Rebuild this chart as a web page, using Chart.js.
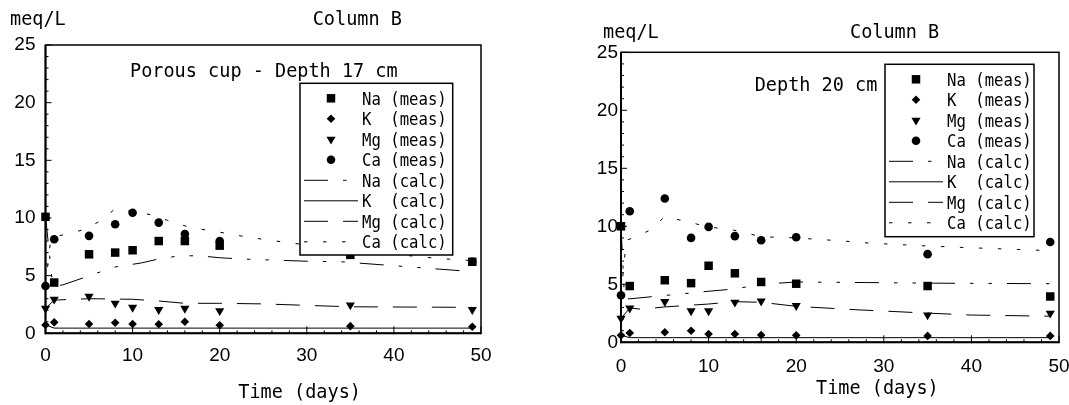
<!DOCTYPE html>
<html>
<head>
<meta charset="utf-8">
<script src="https://cdn.jsdelivr.net/npm/chart.js"></script>
<style>
  body { margin: 0; background: #fff; }
  canvas { position: absolute; top: 0; }
</style>
</head>
<body>
<canvas id="chart17" width="534" height="405" style="left:0px"></canvas>
<canvas id="chart20" width="535" height="405" style="left:534px"></canvas>
<script>
// sampling days of the measured values
const days = [0, 1, 5, 8, 10, 13, 16, 20, 35, 49];
const xTicks = [0, 10, 20, 30, 40, 50];
const yTicks = [0, 5, 10, 15, 20, 25];

// porous cup, depth 17 cm (meq/L)
const naMeas17 = [10.1, 4.4, 6.85, 7.0, 7.2, 8.0, 8.0, 7.6, 6.8, 6.2];
const kMeas17 = [0.72, 0.95, 0.8, 0.92, 0.8, 0.78, 1.0, 0.7, 0.62, 0.57];
const mgMeas17 = [2.15, 2.95, 3.2, 2.6, 2.25, 2.05, 2.15, 1.95, 2.45, 2.05];
const caMeas17 = [4.1, 8.15, 8.45, 9.45, 10.45, 9.6, 8.6, 8.0, null, 6.2];

const naCalc17Days = [0, 0.3, 0.8, 1, 2, 4.5, 6, 8, 11, 13.3, 15.5, 17.7, 20, 23, 30, 34, 49];
const naCalc17 = [10.1, 8.0, 4.3, 4.1, 4.2, 4.85, 5.25, 5.75, 6.1, 6.5, 6.72, 6.72, 6.55, 6.43, 6.25, 6.2, 5.35];
const kCalc17Days = [0, 1, 49];
const kCalc17 = [0.72, 0.45, 0.45];
const mgCalc17Days = [0, 1, 5, 10, 13, 16, 20, 25, 30, 35, 49];
const mgCalc17 = [2.15, 2.88, 3.0, 2.95, 2.8, 2.6, 2.6, 2.55, 2.42, 2.3, 2.25];
const caCalc17Days = [0, 0.6, 1, 4.5, 6.3, 8, 12, 14, 16.5, 20.8, 23, 28, 35, 40, 45, 49];
const caCalc17 = [4.1, 8.2, 8.35, 9.0, 9.75, 10.8, 10.3, 9.8, 9.2, 8.67, 8.36, 7.84, 7.25, 6.85, 6.5, 6.3];

// depth 20 cm (meq/L)
const naMeas20 = [10.0, 4.85, 5.35, 5.1, 6.6, 5.95, 5.2, 5.05, 4.85, 3.95];
const kMeas20 = [0.6, 0.8, 0.86, 1.0, 0.72, 0.72, 0.63, 0.6, 0.55, 0.55];
const mgMeas20 = [2.05, 2.95, 3.5, 2.7, 2.7, 3.45, 3.55, 3.15, 2.35, 2.5];
const caMeas20 = [4.05, 11.3, 12.4, 9.0, 9.95, 9.15, 8.8, 9.05, 7.6, 8.65];

const naCalc20Days = [0, 0.4, 1, 4.5, 10, 13, 16, 20, 28, 35, 49];
const naCalc20 = [10.0, 3.75, 3.75, 4.0, 4.4, 4.6, 5.0, 5.2, 5.15, 5.1, 5.05];
const kCalc20Days = [0, 1, 49];
const kCalc20 = [0.6, 0.4, 0.4];
const mgCalc20Days = [0, 1, 2.4, 5, 10, 13, 16, 20, 27, 34, 40, 49];
const mgCalc20 = [2.05, 2.95, 2.85, 3.05, 3.3, 3.5, 3.45, 3.1, 2.8, 2.55, 2.35, 2.25];
const caCalc20Days = [0, 0.6, 1.4, 3.4, 5, 10, 13, 16, 20, 25, 28.4, 35, 40, 49];
const caCalc20 = [4.05, 8.8, 9.0, 9.7, 10.85, 9.95, 9.65, 9.1, 9.0, 8.75, 8.55, 8.3, 8.15, 7.9];

const MONO = '"DejaVu Sans Mono", monospace';

function pts(xs, ys) {
  return xs.map((x, i) => ({ x: x, y: ys[i] })).filter(p => p.y !== null);
}

function meas(label, data, style, radius, rotation) {
  return {
    label: label, data: data, showLine: false, clip: false,
    pointStyle: style, pointRadius: radius, pointRotation: rotation || 0,
    pointBackgroundColor: "#000", pointBorderColor: "#000", pointBorderWidth: 0
  };
}

function calc(label, data, dash) {
  return {
    label: label, data: data, showLine: true, clip: false,
    borderColor: "#000", borderWidth: 1, borderDash: dash,
    pointRadius: 0, tension: 0, fill: false
  };
}

// narrow, tall monospace text (x squeezed a little)
function monoText(ctx, text, x, y, size, sx) {
  ctx.save();
  ctx.font = size + "px " + MONO;
  ctx.translate(x, y);
  ctx.scale(sx, 1);
  ctx.fillText(text, 0, 0);
  ctx.restore();
}

// frame, inward ticks, texts and the boxed legend inside the plot
const framePlugin = {
  id: "frame",
  afterDatasetsDraw(chart, args, opts) {
    const { ctx, chartArea: a, scales: { x, y } } = chart;
    ctx.save();
    ctx.strokeStyle = "#000";
    ctx.lineWidth = 1;
    ctx.beginPath();
    for (let v = 0; v <= 25; v++) {
      const py = y.getPixelForValue(v);
      ctx.moveTo(a.left, py);
      ctx.lineTo(a.left + (v % 5 ? 3 : 6), py);
    }
    for (let v = 0; v <= 50; v += 2) {
      const px = x.getPixelForValue(v);
      ctx.moveTo(px, a.bottom + (v % 10 ? 0 : 1));
      ctx.lineTo(px, a.bottom - (v % 10 ? 3 : 7));
    }
    ctx.stroke();
    ctx.lineWidth = 1.5;
    ctx.strokeRect(a.left, a.top, a.right - a.left, a.bottom - a.top);
    ctx.lineWidth = 2;
    ctx.beginPath();
    ctx.moveTo(a.left, a.top);
    ctx.lineTo(a.left, a.bottom);
    ctx.lineTo(a.right, a.bottom);
    ctx.stroke();

    // legend
    const lg = opts.legend;
    ctx.fillStyle = "#fff";
    ctx.fillRect(lg.left, lg.top, lg.width, lg.height);
    ctx.lineWidth = 1.5;
    ctx.strokeRect(lg.left, lg.top, lg.width, lg.height);
    chart.data.datasets.forEach((ds, i) => {
      const cy = lg.top + 15 + i * 20.5;
      ctx.fillStyle = "#000";
      if (ds.showLine) {
        ctx.save();
        ctx.lineWidth = 1;
        ctx.setLineDash(ds.borderDash);
        ctx.beginPath();
        ctx.moveTo(lg.left + 4, cy);
        ctx.lineTo(lg.left + 58, cy);
        ctx.stroke();
        ctx.restore();
      } else {
        Chart.helpers.drawPoint(ctx, {
          pointStyle: ds.pointStyle, radius: ds.pointRadius,
          rotation: ds.pointRotation, borderWidth: 0
        }, lg.left + 31, cy);
      }
      monoText(ctx, ds.label, lg.left + 62, cy + 6.5, 17, 0.92);
    });

    // texts
    ctx.fillStyle = "#000";
    opts.texts.forEach(t => monoText(ctx, t.text, t.x, t.y, 19, 0.975));
    ctx.restore();
  }
};

function makeChart(id, datasets, box, legend, texts) {
  const canvas = document.getElementById(id);
  const W = canvas.width, H = canvas.height;
  return new Chart(canvas.getContext("2d"), {
    type: "scatter",
    data: { datasets: datasets },
    options: {
      responsive: false,
      animation: false,
      devicePixelRatio: 1,
      layout: { padding: { left: 0, top: box.top, right: W - box.right, bottom: 0 } },
      scales: {
        x: {
          type: "linear", min: 0, max: 50,
          grid: { display: false, drawTicks: false },
          border: { display: false },
          afterBuildTicks: s => { s.ticks = xTicks.map(v => ({ value: v })); },
          afterFit: s => { s.height = H - box.bottom; s.paddingLeft = 0; s.paddingRight = 0; },
          ticks: { padding: box.xPad, color: "#000", font: { size: 19, family: "Liberation Sans" }, maxRotation: 0, autoSkip: false }
        },
        y: {
          type: "linear", min: 0, max: 25,
          grid: { display: false, drawTicks: false },
          border: { display: false },
          afterBuildTicks: s => { s.ticks = yTicks.map(v => ({ value: v })); },
          afterFit: s => { s.width = box.left; },
          ticks: { padding: box.yPad, color: "#000", font: { size: 19, family: "Liberation Sans" } }
        }
      },
      plugins: {
        legend: { display: false },
        tooltip: { enabled: false },
        frame: { legend: legend, texts: texts }
      }
    },
    plugins: [framePlugin]
  });
}

function seriesSet(na, k, mg, ca, naC, kC, mgC, caC) {
  return [
    meas("Na (meas)", na, "rect", 6),
    meas("K  (meas)", k, "rectRot", 4.3),
    meas("Mg (meas)", mg, "triangle", 5.3, 180),
    meas("Ca (meas)", ca, "circle", 4.3),
    calc("Na (calc)", naC, [24, 15, 3.5, 15, 3.5, 15]),
    calc("K  (calc)", kC, []),
    calc("Mg (calc)", mgC, [24, 15]),
    calc("Ca (calc)", caC, [3.5, 15.5])
  ];
}

makeChart("chart17",
  seriesSet(pts(days, naMeas17), pts(days, kMeas17), pts(days, mgMeas17), pts(days, caMeas17),
    pts(naCalc17Days, naCalc17), pts(kCalc17Days, kCalc17), pts(mgCalc17Days, mgCalc17), pts(caCalc17Days, caCalc17)),
  { left: 45.5, right: 481, top: 45, bottom: 333.3, xPad: 11, yPad: 10 },
  { left: 300, top: 83.3, width: 152.7, height: 171.7 },
  [
    { text: "meq/L", x: 10, y: 25 },
    { text: "Column B", x: 312.7, y: 25 },
    { text: "Porous cup - Depth 17 cm", x: 130, y: 76.7 },
    { text: "Time (days)", x: 238.3, y: 398 }
  ]);

makeChart("chart20",
  seriesSet(pts(days, naMeas20), pts(days, kMeas20), pts(days, mgMeas20), pts(days, caMeas20),
    pts(naCalc20Days, naCalc20), pts(kCalc20Days, kCalc20), pts(mgCalc20Days, mgCalc20), pts(caCalc20Days, caCalc20)),
  { left: 87, right: 525, top: 52.3, bottom: 342.3, xPad: 13, yPad: 3 },
  { left: 351, top: 64.3, width: 149, height: 172.4 },
  [
    { text: "meq/L", x: 69, y: 38 },
    { text: "Column B", x: 316, y: 38 },
    { text: "Depth 20 cm", x: 220.7, y: 90.7 },
    { text: "Time (days)", x: 282, y: 393.5 }
  ]);
</script>
</body>
</html>
